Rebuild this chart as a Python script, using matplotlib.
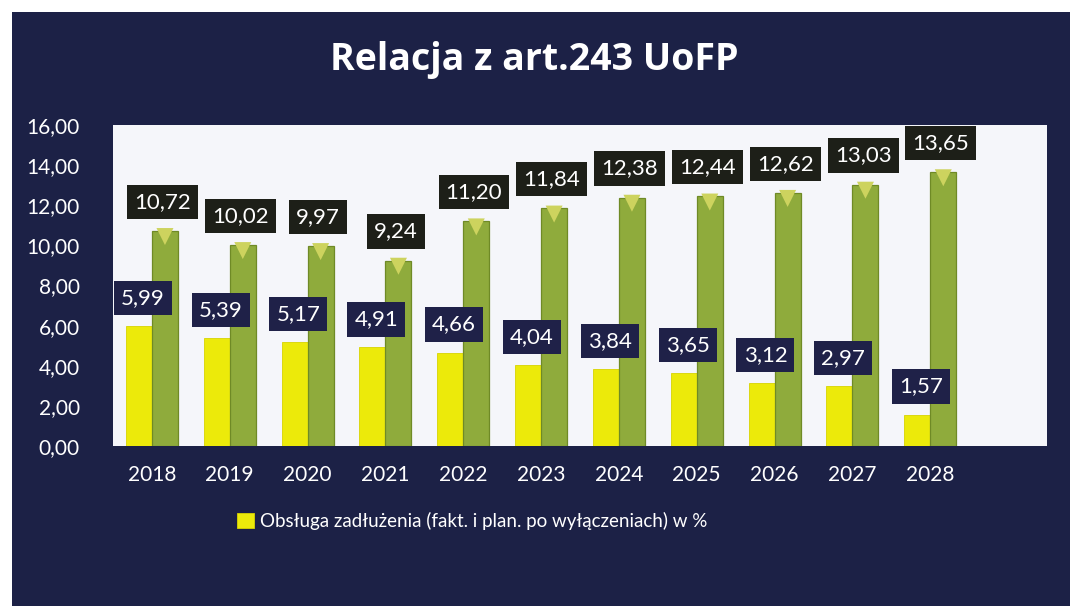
import numpy as np
import matplotlib.pyplot as plt
from matplotlib.patches import Rectangle

# data
years = ['2018', '2019', '2020', '2021', '2022', '2023', '2024', '2025', '2026', '2027', '2028']
obsluga = [5.99, 5.39, 5.17, 4.91, 4.66, 4.04, 3.84, 3.65, 3.12, 2.97, 1.57]
relacja = [10.72, 10.02, 9.97, 9.24, 11.20, 11.84, 12.38, 12.44, 12.62, 13.03, 13.65]
yticks = [0, 2, 4, 6, 8, 10, 12, 14, 16]

navy = '#1c2146'
yellow = '#ecea0a'
green = '#8fab3c'

plt.rcParams['font.family'] = ['Lato', 'DejaVu Sans']

fig = plt.figure(figsize=(10.7, 6.06), dpi=100, facecolor='white')
# dark slide background, scan leaves a white edge top/left
fig.patches.append(Rectangle((12 / 1070, 0), 1, 1 - 12 / 606, transform=fig.transFigure,
                             facecolor=navy, edgecolor='none', zorder=-10))

ax = fig.add_axes([113 / 1070, (606 - 446) / 606, (1047 - 113) / 1070, (446 - 125) / 606])
ax.set_facecolor('#f5f6fa')

x = np.arange(len(years))
w = 0.335
ax.bar(x - w / 2, obsluga, w, color=yellow, edgecolor='#d8d400', linewidth=0.6,
       label='Obsługa zadłużenia (fakt. i plan. po wyłączeniach) w %', zorder=2)
ax.bar(x + w / 2, relacja, w, color=green, edgecolor='#6f8a26', linewidth=0.9, zorder=2)
# lighter bevel on top of green bars
ax.scatter(x + w / 2, np.array(relacja) - 0.28, marker='v', s=150, color='#cdd35e',
           edgecolors='none', zorder=3)

fmt = lambda v: f'{v:.2f}'.replace('.', ',')
for xi, v in zip(x, obsluga):
    ax.text(xi - w / 2 + 0.05, v + 1.4, fmt(v), ha='center', va='center', color='white', fontsize=16,
            bbox=dict(boxstyle='square,pad=0.32', facecolor='#1f2148', edgecolor='none'), zorder=4)
for xi, v in zip(x, relacja):
    ax.text(xi + w / 2 - 0.03, v + 1.45, fmt(v), ha='center', va='center', color='white', fontsize=16,
            bbox=dict(boxstyle='square,pad=0.32', facecolor='#1d1f18', edgecolor='none'), zorder=4)

ax.set_xlim(-0.5, 11.5)
ax.set_ylim(0, 16)
ax.set_yticks(yticks)
ax.set_yticklabels([fmt(t) for t in yticks])
ax.set_xticks(x)
ax.set_xticklabels(years)
ax.tick_params(colors='white', labelsize=15, length=0)
ax.tick_params(axis='x', pad=14)
ax.tick_params(axis='y', pad=24)
for s in ax.spines.values():
    s.set_visible(False)

fig.text(534 / 1070, 1 - 60 / 606, 'Relacja z art.243 UoFP', ha='center', va='center',
         color='white', fontsize=27, fontweight='bold', family=['Open Sans', 'DejaVu Sans'])

leg = fig.legend(loc='center', bbox_to_anchor=(472 / 1070, 1 - 521 / 606), frameon=False,
                 fontsize=13.5, handlelength=0.9, handleheight=0.9, handletextpad=0.3)
for t in leg.get_texts():
    t.set_color('white')

fig.savefig('out.png', dpi=100, facecolor=fig.get_facecolor())
